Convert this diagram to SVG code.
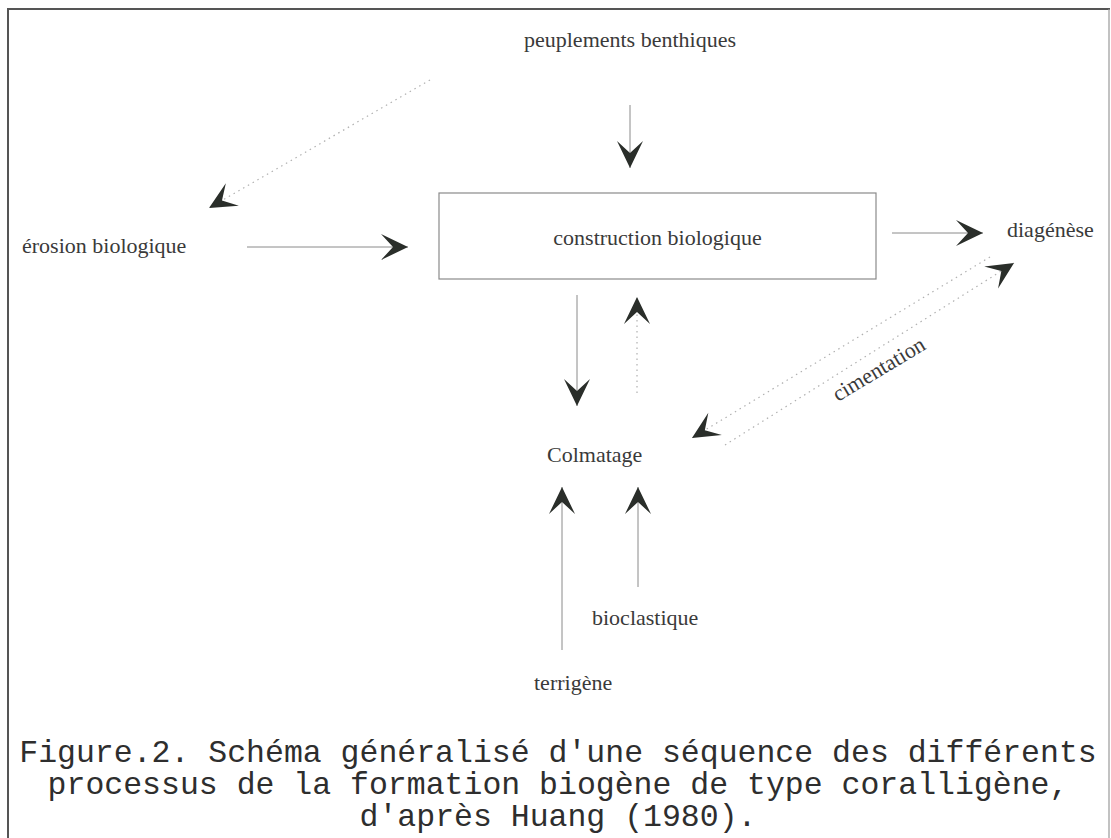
<svg xmlns="http://www.w3.org/2000/svg" width="1111" height="838" viewBox="0 0 1111 838">
  <style>
    .lbl { font-family: "Liberation Serif", "Times New Roman", serif; font-size: 22px; fill: #3a3a3a; }
    .cap { font-family: "Liberation Mono", "Courier New", monospace; font-size: 31.5px; fill: #2e2e2e; }
    .ln { stroke: #8a8a8a; stroke-width: 1; fill: none; }
    .dot { stroke: #b0b0b0; stroke-width: 1.2; stroke-dasharray: 1.5 4; fill: none; }
    .frame { fill: none; stroke: #555; stroke-width: 2; }
    .box { fill: #fff; stroke: #8a8a8a; stroke-width: 1.2; }
  </style>
  <defs>
    <marker id="ah" markerUnits="userSpaceOnUse" viewBox="-28 -14 29 28" refX="0" refY="0" markerWidth="29" markerHeight="28" orient="auto" overflow="visible">
      <path d="M0,0 L-27,-13 L-15,0 L-27,13 Z" fill="#2a2e2a"/>
    </marker>
  </defs>
  <rect width="1111" height="838" fill="#fff"/>
  <path class="frame" d="M8,845 L8,9 L1110,9"/>
  <line x1="1109" y1="9" x2="1109" y2="845" stroke="#999" stroke-width="1.2"/>

  <g id="connectors">
    <line class="ln" x1="630" y1="105" x2="630" y2="168" marker-end="url(#ah)"/>
    <line class="ln" x1="247" y1="247" x2="408" y2="247" marker-end="url(#ah)"/>
    <line class="ln" x1="892" y1="233" x2="983" y2="233" marker-end="url(#ah)"/>
    <line class="ln" x1="577" y1="295" x2="577" y2="406" marker-end="url(#ah)"/>
    <line class="dot" x1="637" y1="393" x2="637" y2="297" marker-end="url(#ah)"/>
    <line class="ln" x1="562" y1="650" x2="562" y2="487" marker-end="url(#ah)"/>
    <line class="ln" x1="638" y1="587" x2="638" y2="487" marker-end="url(#ah)"/>
    <line class="dot" x1="430" y1="80" x2="209" y2="208" marker-end="url(#ah)"/>
    <line class="dot" x1="990" y1="257" x2="692" y2="438" marker-end="url(#ah)"/>
    <line class="dot" x1="725" y1="445" x2="1014" y2="263" marker-end="url(#ah)"/>
    <text class="lbl" x="838" y="402" transform="rotate(-31 838 402)">cimentation</text>
  </g>

  <g id="node-construction">
    <rect class="box" x="439" y="193" width="437" height="86"/>
    <text class="lbl" x="657.5" y="245" text-anchor="middle">construction biologique</text>
  </g>
  <g id="node-peuplements">
    <text class="lbl" x="630" y="47" text-anchor="middle">peuplements benthiques</text>
  </g>
  <g id="node-erosion">
    <text class="lbl" x="22" y="253">érosion biologique</text>
  </g>
  <g id="node-diagenese">
    <text class="lbl" x="1007" y="237">diagénèse</text>
  </g>
  <g id="node-colmatage">
    <text class="lbl" x="547" y="462">Colmatage</text>
  </g>
  <g id="node-bioclastique">
    <text class="lbl" x="592" y="625">bioclastique</text>
  </g>
  <g id="node-terrigene">
    <text class="lbl" x="534" y="690">terrigène</text>
  </g>

  <g id="caption">
    <text class="cap" x="558" y="762" text-anchor="middle">Figure.2. Schéma généralisé d'une séquence des différents</text>
    <text class="cap" x="558" y="794" text-anchor="middle">processus de la formation biogène de type coralligène,</text>
    <text class="cap" x="558" y="826" text-anchor="middle">d'après Huang (1980).</text>
  </g>
</svg>
